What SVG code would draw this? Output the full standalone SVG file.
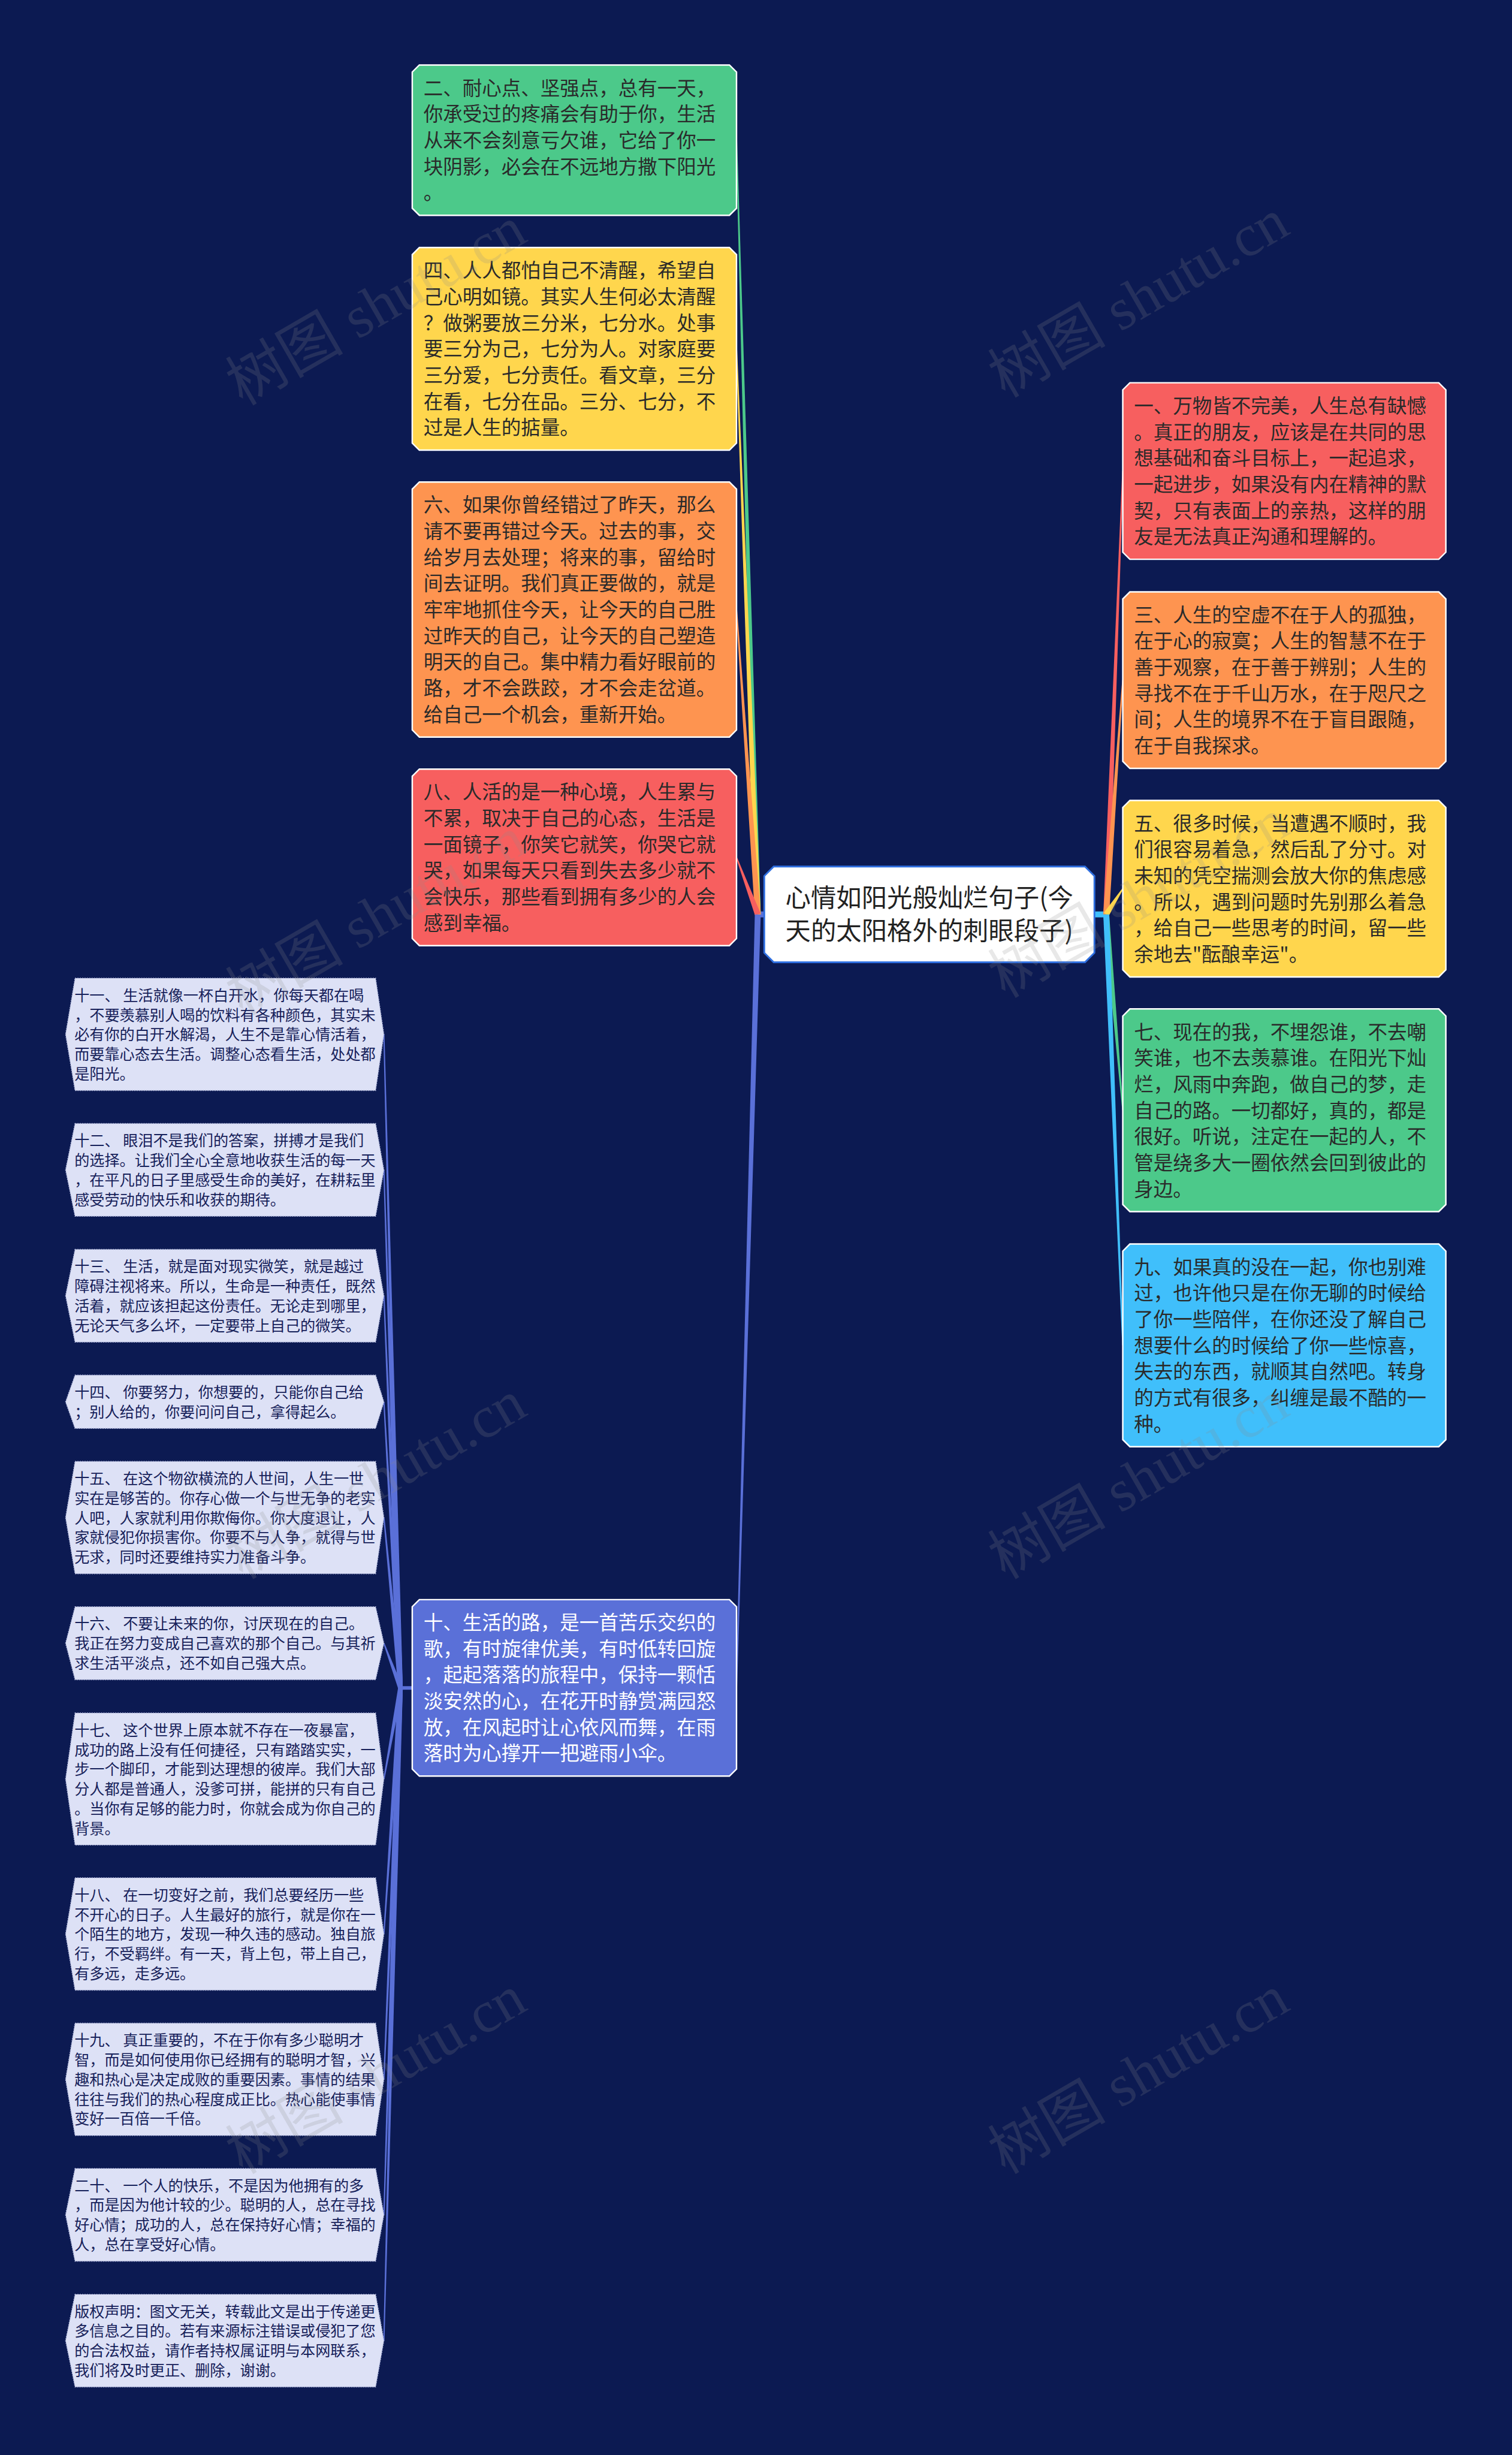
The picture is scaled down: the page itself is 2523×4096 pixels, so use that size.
<svg xmlns="http://www.w3.org/2000/svg" width="2523" height="4096" viewBox="0 0 2523 4096">
<defs>
<style>
.t{font-family:"Noto Sans CJK SC","Noto Sans",sans-serif;}
.big{font-size:33px;fill:#2a2a2a;}
.wt{font-size:33px;fill:#ffffff;}
.small{font-size:25.5px;fill:#17215a;}
.ctr{font-size:43px;fill:#222222;}
.nb{stroke:#ffffff;stroke-width:2.5;}
.sn{fill:#DDE1F6;stroke:#aab1d6;stroke-width:1.5;stroke-dasharray:2 2;}
.wm{font-family:"Liberation Serif","Noto Sans CJK SC",serif;font-size:100px;fill:#8a8a8a;fill-opacity:0.2;}
</style>
</defs>
<rect x="0" y="0" width="2523" height="4096" fill="#0C1A52"/>
<g transform="scale(0.98555)">

<g id="connectors">
  <!-- left main junction -->
  <rect x="1279" y="1543" width="16" height="10" fill="#5A70D8"/>
  <polygon points="1288,1548 1248,237 1246,237 1278,1548" fill="#4CC98A"/>
  <polygon points="1288,1548 1248,590.5 1246,590.5 1278,1548" fill="#FFD64D"/>
  <polygon points="1288,1548 1248,1032 1246,1032 1278,1548" fill="#FE9450"/>
  <polygon points="1287.7,1546.3 1247.9,1451.2 1246.1,1451.8 1278.3,1549.7" fill="#F75F5F"/>
  <polygon points="1288,1548 1248,2857.5 1246,2857.5 1278,1548" fill="#5A70D8"/>
  <!-- right main junction -->
  <rect x="1852" y="1543" width="24" height="10" fill="#40BFFB"/>
  <polygon points="1878,1548 1902,797.5 1900,797.5 1868,1548" fill="#F75F5F"/>
  <polygon points="1878,1548 1902,1151.5 1900,1151.5 1868,1548" fill="#FE9450"/>
  <polygon points="1877.2,1550.7 1901.8,1505 1900.2,1504 1868.8,1545.3" fill="#FFD64D"/>
  <polygon points="1878,1548 1902,1879.5 1900,1879.5 1868,1548" fill="#4CC98A"/>
  <polygon points="1878,1548 1902,2277.5 1900,2277.5 1868,1548" fill="#40BFFB"/>
  <!-- sub junction from node 十 -->
  <rect x="676" y="2854.5" width="23" height="6" fill="#5A70D8"/>
  <polygon points="682,2857.5 651,1751.1 649,1751.1 674,2857.5" fill="#5A70D8"/>
  <polygon points="682,2857.5 651,1980.5 649,1980.5 674,2857.5" fill="#5A70D8"/>
  <polygon points="682,2857.5 651,2193.5 649,2193.5 674,2857.5" fill="#5A70D8"/>
  <polygon points="682,2857.5 651,2373.2 649,2373.2 674,2857.5" fill="#5A70D8"/>
  <polygon points="682,2857.5 651,2569.1 649,2569.1 674,2857.5" fill="#5A70D8"/>
  <polygon points="681.8,2856.1 650.9,2781.5 649.1,2782.1 674.2,2858.9" fill="#5A70D8"/>
  <polygon points="674.1,2856.8 649,3011.6 651,3012 681.9,2858.2" fill="#5A70D8"/>
  <polygon points="682,2857.5 651,3274.1 649,3274.1 674,2857.5" fill="#5A70D8"/>
  <polygon points="682,2857.5 651,3520.1 649,3520.1 674,2857.5" fill="#5A70D8"/>
  <polygon points="682,2857.5 651,3749.5 649,3749.5 674,2857.5" fill="#5A70D8"/>
  <polygon points="682,2857.5 651,3962.5 649,3962.5 674,2857.5" fill="#5A70D8"/>
</g>

<g id="node-center">
  <path d="M1310,1467 H1837 L1853,1483 V1613 L1837,1629 H1310 L1294,1613 V1483 Z" fill="#ffffff" stroke="#2F6FE0" stroke-width="3"/>
  <text class="t ctr" text-anchor="middle" x="1573.5" y="1535">心情如阳光般灿烂句子(今<tspan x="1573.5" dy="56">天的太阳格外的刺眼段子)</tspan></text>
</g>

<g id="node-2">
  <path d="M710,110 H1235 L1247,122 V352.5 L1235,364.5 H710 L698,352.5 V122 Z" fill="#4CC98A" class="nb"/>
  <text class="t big" x="717" y="161">二、耐心点、坚强点，总有一天，<tspan x="717" dy="44.3">你承受过的疼痛会有助于你，生活</tspan><tspan x="717" dy="44.3">从来不会刻意亏欠谁，它给了你一</tspan><tspan x="717" dy="44.3">块阴影，必会在不远地方撒下阳光</tspan><tspan x="717" dy="44.3">。</tspan></text>
</g>

<g id="node-4">
  <path d="M710,419 H1235 L1247,431 V750.1 L1235,762.1 H710 L698,750.1 V431 Z" fill="#FFD64D" class="nb"/>
  <text class="t big" x="717" y="470">四、人人都怕自己不清醒，希望自<tspan x="717" dy="44.3">己心明如镜。其实人生何必太清醒</tspan><tspan x="717" dy="44.3">？做粥要放三分米，七分水。处事</tspan><tspan x="717" dy="44.3">要三分为己，七分为人。对家庭要</tspan><tspan x="717" dy="44.3">三分爱，七分责任。看文章，三分</tspan><tspan x="717" dy="44.3">在看，七分在品。三分、七分，不</tspan><tspan x="717" dy="44.3">过是人生的掂量。</tspan></text>
</g>

<g id="node-6">
  <path d="M710,816 H1235 L1247,828 V1235.7 L1235,1247.7 H710 L698,1235.7 V828 Z" fill="#FE9450" class="nb"/>
  <text class="t big" x="717" y="867">六、如果你曾经错过了昨天，那么<tspan x="717" dy="44.3">请不要再错过今天。过去的事，交</tspan><tspan x="717" dy="44.3">给岁月去处理；将来的事，留给时</tspan><tspan x="717" dy="44.3">间去证明。我们真正要做的，就是</tspan><tspan x="717" dy="44.3">牢牢地抓住今天，让今天的自己胜</tspan><tspan x="717" dy="44.3">过昨天的自己，让今天的自己塑造</tspan><tspan x="717" dy="44.3">明天的自己。集中精力看好眼前的</tspan><tspan x="717" dy="44.3">路，才不会跌跤，才不会走岔道。</tspan><tspan x="717" dy="44.3">给自己一个机会，重新开始。</tspan></text>
</g>

<g id="node-8">
  <path d="M710,1302 H1235 L1247,1314 V1588.8 L1235,1600.8 H710 L698,1588.8 V1314 Z" fill="#F75F5F" class="nb"/>
  <text class="t big" x="717" y="1353">八、人活的是一种心境，人生累与<tspan x="717" dy="44.3">不累，取决于自己的心态，生活是</tspan><tspan x="717" dy="44.3">一面镜子，你笑它就笑，你哭它就</tspan><tspan x="717" dy="44.3">哭，如果每天只看到失去多少就不</tspan><tspan x="717" dy="44.3">会快乐，那些看到拥有多少的人会</tspan><tspan x="717" dy="44.3">感到幸福。</tspan></text>
</g>

<g id="node-10">
  <path d="M710,2708 H1235 L1247,2720 V2994.8 L1235,3006.8 H710 L698,2994.8 V2720 Z" fill="#5A70D8" class="nb"/>
  <text class="t wt" x="717" y="2759">十、生活的路，是一首苦乐交织的<tspan x="717" dy="44.3">歌，有时旋律优美，有时低转回旋</tspan><tspan x="717" dy="44.3">，起起落落的旅程中，保持一颗恬</tspan><tspan x="717" dy="44.3">淡安然的心，在花开时静赏满园怒</tspan><tspan x="717" dy="44.3">放，在风起时让心依风而舞，在雨</tspan><tspan x="717" dy="44.3">落时为心撑开一把避雨小伞。</tspan></text>
</g>

<g id="node-1">
  <path d="M1913,648 H2436 L2448,660 V934.8 L2436,946.8 H1913 L1901,934.8 V660 Z" fill="#F75F5F" class="nb"/>
  <text class="t big" x="1920" y="699">一、万物皆不完美，人生总有缺憾<tspan x="1920" dy="44.3">。真正的朋友，应该是在共同的思</tspan><tspan x="1920" dy="44.3">想基础和奋斗目标上，一起追求，</tspan><tspan x="1920" dy="44.3">一起进步，如果没有内在精神的默</tspan><tspan x="1920" dy="44.3">契，只有表面上的亲热，这样的朋</tspan><tspan x="1920" dy="44.3">友是无法真正沟通和理解的。</tspan></text>
</g>

<g id="node-3">
  <path d="M1913,1002 H2436 L2448,1014 V1288.8 L2436,1300.8 H1913 L1901,1288.8 V1014 Z" fill="#FE9450" class="nb"/>
  <text class="t big" x="1920" y="1053">三、人生的空虚不在于人的孤独，<tspan x="1920" dy="44.3">在于心的寂寞；人生的智慧不在于</tspan><tspan x="1920" dy="44.3">善于观察，在于善于辨别；人生的</tspan><tspan x="1920" dy="44.3">寻找不在于千山万水，在于咫尺之</tspan><tspan x="1920" dy="44.3">间；人生的境界不在于盲目跟随，</tspan><tspan x="1920" dy="44.3">在于自我探求。</tspan></text>
</g>

<g id="node-5">
  <path d="M1913,1355 H2436 L2448,1367 V1641.8 L2436,1653.8 H1913 L1901,1641.8 V1367 Z" fill="#FFD64D" class="nb"/>
  <text class="t big" x="1920" y="1406">五、很多时候，当遭遇不顺时，我<tspan x="1920" dy="44.3">们很容易着急，然后乱了分寸。对</tspan><tspan x="1920" dy="44.3">未知的凭空揣测会放大你的焦虑感</tspan><tspan x="1920" dy="44.3">。所以，遇到问题时先别那么着急</tspan><tspan x="1920" dy="44.3">，给自己一些思考的时间，留一些</tspan><tspan x="1920" dy="44.3">余地去"酝酿幸运"。</tspan></text>
</g>

<g id="node-7">
  <path d="M1913,1708 H2436 L2448,1720 V2039.1 L2436,2051.1 H1913 L1901,2039.1 V1720 Z" fill="#4CC98A" class="nb"/>
  <text class="t big" x="1920" y="1759">七、现在的我，不埋怨谁，不去嘲<tspan x="1920" dy="44.3">笑谁，也不去羡慕谁。在阳光下灿</tspan><tspan x="1920" dy="44.3">烂，风雨中奔跑，做自己的梦，走</tspan><tspan x="1920" dy="44.3">自己的路。一切都好，真的，都是</tspan><tspan x="1920" dy="44.3">很好。听说，注定在一起的人，不</tspan><tspan x="1920" dy="44.3">管是绕多大一圈依然会回到彼此的</tspan><tspan x="1920" dy="44.3">身边。</tspan></text>
</g>

<g id="node-9">
  <path d="M1913,2106 H2436 L2448,2118 V2437.1 L2436,2449.1 H1913 L1901,2437.1 V2118 Z" fill="#40BFFB" class="nb"/>
  <text class="t big" x="1920" y="2157">九、如果真的没在一起，你也别难<tspan x="1920" dy="44.3">过，也许他只是在你无聊的时候给</tspan><tspan x="1920" dy="44.3">了你一些陪伴，在你还没了解自己</tspan><tspan x="1920" dy="44.3">想要什么的时候给了你一些惊喜，</tspan><tspan x="1920" dy="44.3">失去的东西，就顺其自然吧。转身</tspan><tspan x="1920" dy="44.3">的方式有很多，纠缠是最不酷的一</tspan><tspan x="1920" dy="44.3">种。</tspan></text>
</g>

<g id="node-11">
  <polygon class="sn" points="127,1656 636,1656 650,1751.1 636,1846.2 127,1846.2 111,1751.1"/>
  <text class="t small" x="126" y="1694.2">十一、 生活就像一杯白开水，你每天都在喝<tspan x="126" dy="33.3">，不要羡慕别人喝的饮料有各种颜色，其实未</tspan><tspan x="126" dy="33.3">必有你的白开水解渴，人生不是靠心情活着，</tspan><tspan x="126" dy="33.3">而要靠心态去生活。调整心态看生活，处处都</tspan><tspan x="126" dy="33.3">是阳光。</tspan></text>
</g>

<g id="node-12">
  <polygon class="sn" points="127,1902 636,1902 650,1980.5 636,2059 127,2059 111,1980.5"/>
  <text class="t small" x="126" y="1940.2">十二、 眼泪不是我们的答案，拼搏才是我们<tspan x="126" dy="33.3">的选择。让我们全心全意地收获生活的每一天</tspan><tspan x="126" dy="33.3">，在平凡的日子里感受生命的美好，在耕耘里</tspan><tspan x="126" dy="33.3">感受劳动的快乐和收获的期待。</tspan></text>
</g>

<g id="node-13">
  <polygon class="sn" points="127,2115 636,2115 650,2193.5 636,2272 127,2272 111,2193.5"/>
  <text class="t small" x="126" y="2153.2">十三、 生活，就是面对现实微笑，就是越过<tspan x="126" dy="33.3">障碍注视将来。所以，生命是一种责任，既然</tspan><tspan x="126" dy="33.3">活着，就应该担起这份责任。无论走到哪里，</tspan><tspan x="126" dy="33.3">无论天气多么坏，一定要带上自己的微笑。</tspan></text>
</g>

<g id="node-14">
  <polygon class="sn" points="127,2328 636,2328 650,2373.2 636,2418.3 127,2418.3 111,2373.2"/>
  <text class="t small" x="126" y="2366.2">十四、 你要努力，你想要的，只能你自己给<tspan x="126" dy="33.3">；别人给的，你要问问自己，拿得起么。</tspan></text>
</g>

<g id="node-15">
  <polygon class="sn" points="127,2474 636,2474 650,2569.1 636,2664.2 127,2664.2 111,2569.1"/>
  <text class="t small" x="126" y="2512.2">十五、 在这个物欲横流的人世间，人生一世<tspan x="126" dy="33.3">实在是够苦的。你存心做一个与世无争的老实</tspan><tspan x="126" dy="33.3">人吧，人家就利用你欺侮你。你大度退让，人</tspan><tspan x="126" dy="33.3">家就侵犯你损害你。你要不与人争，就得与世</tspan><tspan x="126" dy="33.3">无求，同时还要维持实力准备斗争。</tspan></text>
</g>

<g id="node-16">
  <polygon class="sn" points="127,2720 636,2720 650,2781.8 636,2843.6 127,2843.6 111,2781.8"/>
  <text class="t small" x="126" y="2758.2">十六、 不要让未来的你，讨厌现在的自己。<tspan x="126" dy="33.3">我正在努力变成自己喜欢的那个自己。与其祈</tspan><tspan x="126" dy="33.3">求生活平淡点，还不如自己强大点。</tspan></text>
</g>

<g id="node-17">
  <polygon class="sn" points="127,2900 636,2900 650,3011.8 636,3123.5 127,3123.5 111,3011.8"/>
  <text class="t small" x="126" y="2938.2">十七、 这个世界上原本就不存在一夜暴富，<tspan x="126" dy="33.3">成功的路上没有任何捷径，只有踏踏实实，一</tspan><tspan x="126" dy="33.3">步一个脚印，才能到达理想的彼岸。我们大部</tspan><tspan x="126" dy="33.3">分人都是普通人，没爹可拼，能拼的只有自己</tspan><tspan x="126" dy="33.3">。当你有足够的能力时，你就会成为你自己的</tspan><tspan x="126" dy="33.3">背景。</tspan></text>
</g>

<g id="node-18">
  <polygon class="sn" points="127,3179 636,3179 650,3274.1 636,3369.2 127,3369.2 111,3274.1"/>
  <text class="t small" x="126" y="3217.2">十八、 在一切变好之前，我们总要经历一些<tspan x="126" dy="33.3">不开心的日子。人生最好的旅行，就是你在一</tspan><tspan x="126" dy="33.3">个陌生的地方，发现一种久违的感动。独自旅</tspan><tspan x="126" dy="33.3">行，不受羁绊。有一天，背上包，带上自己，</tspan><tspan x="126" dy="33.3">有多远，走多远。</tspan></text>
</g>

<g id="node-19">
  <polygon class="sn" points="127,3425 636,3425 650,3520.1 636,3615.2 127,3615.2 111,3520.1"/>
  <text class="t small" x="126" y="3463.2">十九、 真正重要的，不在于你有多少聪明才<tspan x="126" dy="33.3">智，而是如何使用你已经拥有的聪明才智，兴</tspan><tspan x="126" dy="33.3">趣和热心是决定成败的重要因素。事情的结果</tspan><tspan x="126" dy="33.3">往往与我们的热心程度成正比。热心能使事情</tspan><tspan x="126" dy="33.3">变好一百倍一千倍。</tspan></text>
</g>

<g id="node-20">
  <polygon class="sn" points="127,3671 636,3671 650,3749.5 636,3828 127,3828 111,3749.5"/>
  <text class="t small" x="126" y="3709.2">二十、 一个人的快乐，不是因为他拥有的多<tspan x="126" dy="33.3">，而是因为他计较的少。聪明的人，总在寻找</tspan><tspan x="126" dy="33.3">好心情；成功的人，总在保持好心情；幸福的</tspan><tspan x="126" dy="33.3">人，总在享受好心情。</tspan></text>
</g>

<g id="node-copyright">
  <polygon class="sn" points="127,3884 636,3884 650,3962.5 636,4041 127,4041 111,3962.5"/>
  <text class="t small" x="126" y="3922.2">版权声明：图文无关，转载此文是出于传递更<tspan x="126" dy="33.3">多信息之目的。若有来源标注错误或侵犯了您</tspan><tspan x="126" dy="33.3">的合法权益，请作者持权属证明与本网联系，</tspan><tspan x="126" dy="33.3">我们将及时更正、删除，谢谢。</tspan></text>
</g>

<g id="watermark" class="wm" text-anchor="middle">
  <text transform="translate(636,517) rotate(-30)" y="35">树图 shutu.cn</text>
  <text transform="translate(1927,504) rotate(-30)" y="35">树图 shutu.cn</text>
  <text transform="translate(636,1550) rotate(-30)" y="35">树图 shutu.cn</text>
  <text transform="translate(1927,1520) rotate(-30)" y="35">树图 shutu.cn</text>
  <text transform="translate(636,2504) rotate(-30)" y="35">树图 shutu.cn</text>
  <text transform="translate(1927,2504) rotate(-30)" y="35">树图 shutu.cn</text>
  <text transform="translate(636,3511) rotate(-30)" y="35">树图 shutu.cn</text>
  <text transform="translate(1927,3511) rotate(-30)" y="35">树图 shutu.cn</text>
</g>

</g>
</svg>
